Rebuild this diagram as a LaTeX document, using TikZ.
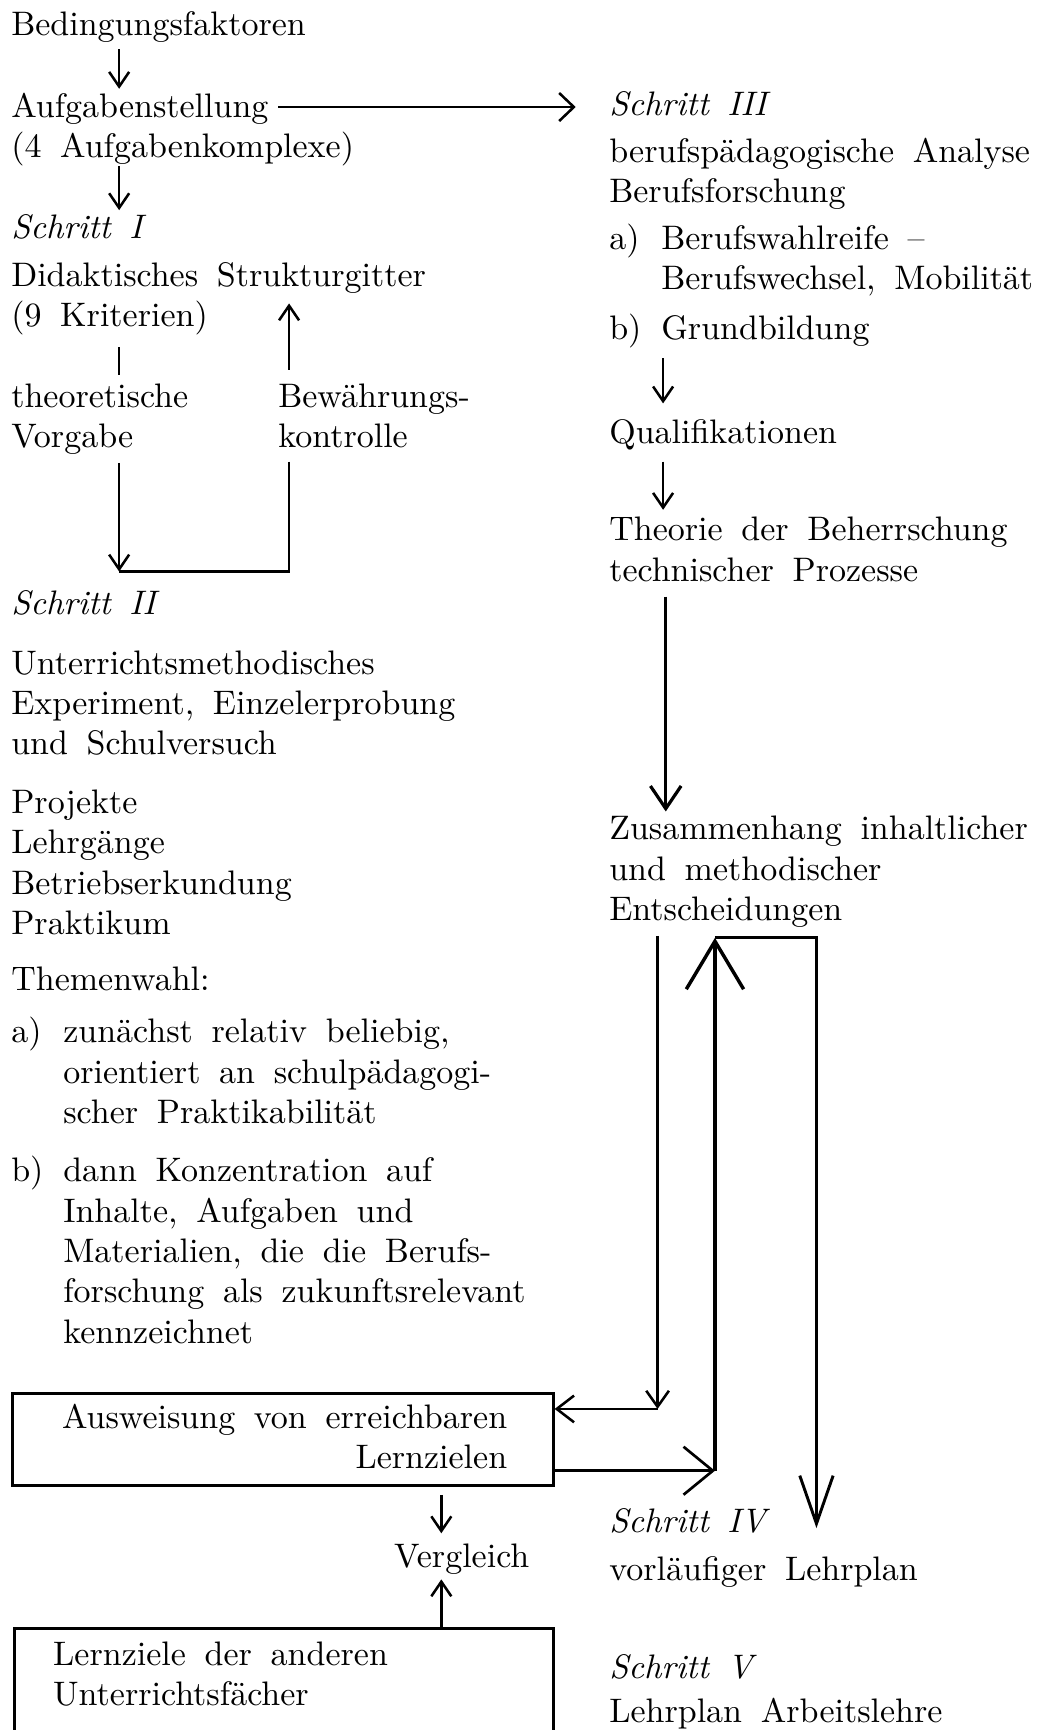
\documentclass[tikz,border=0pt]{standalone}
\usepackage{fontspec}
\setmainfont{lmroman10-regular.otf}[ItalicFont=lmroman10-italic.otf]
\usetikzlibrary{arrows.meta}

\newcommand\itemlab[1]{\makebox[39pt][l]{#1}}
\newcommand\itemind{\hspace*{39pt}}

\begin{document}
\begin{tikzpicture}[x=0.8275pt,y=0.8275pt,yscale=-1,xscale=1,
  txt/.style={anchor=north west,inner sep=0pt,align=left,font={\fontsize{25.5}{30.2}\selectfont\spaceskip=.55em\relax}},
  ln/.style={line width=1.9pt},
  arr/.style={ln,-{Straight Barb[length=11pt,width=15pt]}},
  wbarr/.style={ln,-{Straight Barb[length=11pt,width=21pt]}},
  thkarr/.style={line width=2.4pt,-{Straight Barb[length=17pt,width=23pt]}},
  dnarr/.style={ln,-{Straight Barb[length=12pt,width=17pt]}},
  lfarr/.style={ln,-{Straight Barb[length=13pt,width=20pt]}},
  rtarr/.style={line width=2pt,-{Straight Barb[length=22pt,width=36pt]}},
  uparr/.style={line width=2.6pt,-{Straight Barb[length=36pt,width=43pt]}},
  bigdn/.style={line width=2.2pt,-{Straight Barb[length=36pt,width=25pt]}},
  lbox/.style={draw,line width=2.2pt,inner sep=0pt,anchor=north west}]
\useasboundingbox (0,0) rectangle (949,1568);
\fill[white] (0,0) rectangle (949,1568);
\clip (0,0) rectangle (949,1568);

% Text Node
\node[txt] (bed) at (10,6.5) {\strut Bedingungsfaktoren};
% Text Node
\node[txt] (aufg) at (10,80.5) {\strut Aufgabenstellung\\(4 Aufgabenkomplexe)};
% Text Node
\node[txt] (s1) at (10,190.5) {\strut\textit{Schritt I}};
% Text Node
\node[txt] (didak) at (10,233.5) {\strut Didaktisches Strukturgitter\\(9 Kriterien)};
% Text Node
\node[txt] (theo) at (10,343.5) {\strut theoretische\\Vorgabe};
% Text Node
\node[txt] (bew) at (252,343.5) {\strut Bewährungs-\\kontrolle};
% Text Node
\node[txt] (s2) at (10,531.5) {\strut\textit{Schritt II}};
% Text Node
\node[txt] (unter) at (10,585.5) {\strut Unterrichtsmethodisches\\Experiment, Einzelerprobung\\und Schulversuch};
% Text Node
\node[txt] (proj) at (10,711.5) {\strut Projekte\\Lehrgänge\\Betriebserkundung\\Praktikum};
% Text Node
\node[txt] (thema) at (10,871.5) {\strut Themenwahl:};
% Text Node
\node[txt] (ta) at (10,919.5) {\strut\itemlab{a)}zunächst relativ beliebig,\\\itemind orientiert an schulpädagogi-\\\itemind scher Praktikabilität};
% Text Node
\node[txt] (tb) at (10,1045.5) {\strut\itemlab{b)}dann Konzentration auf\\\itemind Inhalte, Aufgaben und\\\itemind Materialien, die die Berufs-\\\itemind forschung als zukunftsrelevant\\\itemind kennzeichnet};

%Shape: Rectangle
\node[lbox,minimum width=405.5pt,minimum height=68.7pt] (box1) at (10,1262) {};
% Text Node
\node[txt] (ausw) at (56,1268.5) {\strut Ausweisung von erreichbaren\\\hspace*{\fill}Lernzielen};
% Text Node
\node[txt] (vgl) at (357,1394.5) {\strut Vergleich};
%Shape: Rectangle
\node[lbox,minimum width=403.8pt,minimum height=124pt] (box2) at (12,1475) {};
% Text Node
\node[txt] (lzf) at (48,1483.5) {\strut Lernziele der anderen\\Unterrichtsfächer};

% Text Node
\node[txt] (s3) at (552,78.5) {\strut\textit{Schritt III}};
% Text Node
\node[txt] (beruf) at (552,121.5) {\strut berufspädagogische Analyse\\Berufsforschung};
% Text Node
\node[txt] (ra) at (552,200.5) {\strut\itemlab{a)}Berufswahlreife --\\\itemind Berufswechsel, Mobilität};
% Text Node
\node[txt] (rb) at (552,281.5) {\strut\itemlab{b)}Grundbildung};
% Text Node
\node[txt] (quali) at (552,376.5) {\strut Qualifikationen};
% Text Node
\node[txt] (theorie) at (552,464.5) {\strut Theorie der Beherrschung\\technischer Prozesse};
% Text Node
\node[txt] (zus) at (552,735.5) {\strut Zusammenhang inhaltlicher\\und methodischer\\Entscheidungen};
% Text Node
\node[txt] (s4) at (552,1363.5) {\strut\textit{Schritt IV}};
% Text Node
\node[txt] (vorl) at (552,1406.5) {\strut vorläufiger Lehrplan};
% Text Node
\node[txt] (s5) at (552,1495.5) {\strut\textit{Schritt V}};
% Text Node
\node[txt] (lpa) at (552,1535.5) {\strut Lehrplan Arbeitslehre};

% columns and corners
\coordinate (xA) at (108,0);
\coordinate (xB) at (262,0);
\coordinate (xR) at (601,0);
\coordinate (xV) at (400,0);
\coordinate (aufgE) at (252,97);
\coordinate (gitter) at (262,275);
\coordinate (kI) at (108,518);
\coordinate (kA) at (596,1277);
\coordinate (kB) at (648,1333);
\coordinate (kC) at (648,850);
\coordinate (kD) at (740,850);
\coordinate (kE) at (740,1385);

%Straight Lines
\draw[arr,shorten <=1pt] (xA |- bed.south) -- (xA |- aufg.north);
%Straight Lines
\draw[wbarr,shorten >=25pt] (aufgE) -- (aufgE -| s3.west);
%Straight Lines
\draw[arr] (xA |- aufg.south) -- (xA |- s1.north);
%Straight Lines
\draw[ln,shorten <=9pt,shorten >=3pt] (xA |- didak.south) -- (xA |- theo.north);
%Straight Lines
\draw[arr,shorten <=7pt] (xB |- bew.north) -- (gitter);
%Straight Lines
\draw[arr,shorten <=6pt] (xA |- theo.south) -- (kI);
\draw[ln,shorten <=10pt] (xB |- bew.south) |- (kI);

%Straight Lines
\draw[arr,shorten <=5pt,shorten >=9pt] (xR |- rb.south) -- (xR |- quali.north);
%Straight Lines
\draw[arr,shorten <=4pt,shorten >=2pt] (xR |- quali.south) -- (xR |- theorie.north);
%Straight Lines
\draw[thkarr,shorten <=11pt] ([xshift=2pt]xR |- theorie.south) -- ([xshift=2pt]xR |- zus.north);

%Straight Lines
\draw[dnarr,shorten <=6pt] (kA |- zus.south) -- (kA);
\draw[lfarr] (kA) -- (kA -| box1.east);
%Straight Lines
\draw[rtarr] (kB -| box1.east) -- (kB);
\draw[uparr] (kB) -- (kC);
\draw[bigdn] (kC) -- (kD) -- (kE);

%Straight Lines
\draw[arr,shorten <=6pt,shorten >=4pt] (xV |- box1.south) -- (xV |- vgl.north);
%Straight Lines
\draw[arr] (xV |- box2.north) -- (xV |- vgl.south);

\end{tikzpicture}
\end{document}
